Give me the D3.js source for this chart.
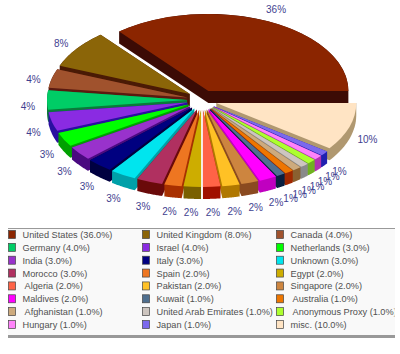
<!DOCTYPE html>
<html>
<head>
<meta charset="utf-8">
<script src="https://cdn.jsdelivr.net/npm/d3@7"></script>
<style>
    html, body { margin: 0; padding: 0; background: #fff; }
    svg { display: block; }
    text { white-space: pre; }
</style>
</head>
<body>
<div id="chart"></div>
<script>
const countries = ["United States", "United Kingdom", "Canada", "Germany", "Israel", "Netherlands",
    "India", "Italy", "Unknown", "Morocco", "Spain", "Egypt",
    " Algeria", "Pakistan", "Singapore", "Maldives", "Kuwait", " Australia",
    " Afghanistan", "United Arab Emirates", " Anonymous Proxy", "Hungary", "Japan", "misc."];
const shares = [36, 8, 4, 4, 4, 3, 3, 3, 3, 3, 2, 2, 2, 2, 2, 2, 1, 1, 1, 1, 1, 1, 1, 10];
const topColors = ["#8b2500", "#8b6508", "#a0522d", "#00cd66", "#8a2be2", "#00ff00",
    "#9932cc", "#000080", "#00e5ee", "#b03060", "#ee7621", "#cdad00",
    "#ff6347", "#ffc125", "#cd853f", "#ff00ff", "#4f6f8f", "#ee7600",
    "#cdaa7d", "#cdc5bf", "#adff2f", "#ff83fa", "#7b68ee", "#ffe4c4"];
const sideColors = ["#3c0b05", "#4a1a05", "#5a1a10", "#0a7a3a", "#2a10a0", "#00a000",
    "#4a0a80", "#000040", "#00a0a8", "#6a0a0a", "#a83000", "#7a6000",
    "#a01000", "#b07800", "#8a4a20", "#c000c0", "#0a2040", "#a02800",
    "#8a6030", "#8a8a8a", "#70b020", "#b030b0", "#2020b0", "#b09870"];

const width = 400, height = 354;
const cx = 202, cy = 100;
const radius = 140, squash = 0.55, depth = 12;
const explodeX = 15, explodeY = 10;
const labelRx = 174, labelRy = 107, labelCy = 106;

const svg = d3.select("#chart").append("svg")
    .attr("width", width)
    .attr("height", height);

// Pie starts at east and runs counterclockwise
const pie = d3.pie().sort(null)
    .startAngle(Math.PI / 2)
    .endAngle(Math.PI / 2 - 2 * Math.PI);
const arc = d3.arc().innerRadius(0).outerRadius(radius);

const slices = pie(shares).map((d, i) => {
    let mid = (d.startAngle + d.endAngle) / 2;
    return {
        ...d, i, mid,
        x: cx + explodeX * Math.sin(mid),
        y: cy - explodeY * Math.cos(mid)
    };
});

// Outline of the slice top, used for the extruded wall
function outline(d) {
    let pts = [[d.x, d.y]];
    d3.range(0, 25).forEach(j => {
        let a = d.startAngle + (d.endAngle - d.startAngle) * j / 24;
        pts.push([d.x + radius * Math.sin(a), d.y - radius * squash * Math.cos(a)]);
    });
    return pts;
}

// Back slices first
const order = slices.slice().sort((a, b) => d3.ascending(-Math.cos(a.mid), -Math.cos(b.mid)));

order.forEach(d => {
    let top = outline(d);
    let all = top.concat(top.map(p => [p[0], p[1] + depth]));
    svg.append("path")
        .attr("d", "M" + d3.polygonHull(all).join("L") + "Z")
        .attr("fill", sideColors[d.i]);
    svg.append("path")
        .attr("transform", `translate(${d.x},${d.y}) scale(1,${squash})`)
        .attr("d", arc(d))
        .attr("fill", topColors[d.i]);
});

// Percent labels
svg.selectAll("text.pct")
    .data(slices)
    .enter().append("text")
    .attr("class", "pct")
    .attr("x", d => cx + labelRx * Math.sin(d.mid))
    .attr("y", d => labelCy - labelRy * Math.cos(d.mid))
    .attr("text-anchor", "middle")
    .attr("dominant-baseline", "central")
    .attr("font-family", "'Liberation Sans', Arial, sans-serif")
    .attr("font-size", 10)
    .attr("fill", "#3f3f90")
    .text(d => shares[d.i] + "%");

// Legend box
svg.append("rect").attr("x", 8).attr("y", 228).attr("width", 387).attr("height", 110).attr("fill", "#999");
svg.append("rect").attr("x", 8).attr("y", 229).attr("width", 387).attr("height", 106).attr("fill", "#f9f9f9");

svg.append("clipPath").attr("id", "legend-clip")
    .append("rect").attr("x", 8).attr("y", 228).attr("width", 386.5).attr("height", 110);

const colX = d3.scalePoint().domain([0, 1, 2]).range([8, 276]);
const rowY = d3.scalePoint().domain(d3.range(8)).range([235, 325]);

const legend = svg.append("g").attr("clip-path", "url(#legend-clip)");

const items = legend.selectAll("g.item")
    .data(countries)
    .enter().append("g")
    .attr("class", "item")
    .attr("transform", (d, i) => `translate(${colX(i % 3)},${rowY(Math.floor(i / 3))})`);

items.append("rect")
    .attr("x", 0.5).attr("y", -4.5)
    .attr("width", 7).attr("height", 8)
    .attr("fill", (d, i) => topColors[i])
    .attr("stroke", "#444")
    .attr("stroke-width", 0.7);

items.append("text")
    .attr("x", 14.5)
    .attr("y", 0)
    .attr("dominant-baseline", "central")
    .attr("font-family", "'Liberation Sans', Arial, sans-serif")
    .attr("font-size", 9.2)
    .attr("fill", "#505050")
    .text((d, i) => `${d} (${shares[i].toFixed(1)}%)`);
</script>
</body>
</html>
